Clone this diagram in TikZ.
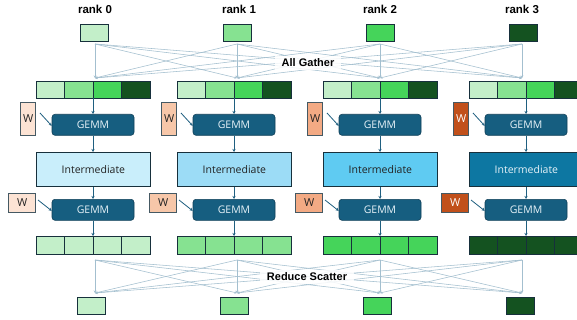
\documentclass[tikz,border=0pt]{standalone}
\usepackage{fontspec}
\setmainfont{Open Sans}
\newfontfamily\lblfont{Liberation Sans}
\usetikzlibrary{arrows.meta}
\definecolor{gA}{HTML}{C3EFC9}
\definecolor{gB}{HTML}{86E291}
\definecolor{gC}{HTML}{45D45A}
\definecolor{gD}{HTML}{145220}
\definecolor{gemmfill}{HTML}{165E80}
\definecolor{gemmdraw}{HTML}{0F3F58}
\definecolor{cellline}{HTML}{17303C}
\definecolor{fanline}{HTML}{A3BFCF}
\definecolor{arr}{HTML}{1F5F80}
\definecolor{iA}{HTML}{C9EEFB}
\definecolor{iB}{HTML}{9CDCF6}
\definecolor{iC}{HTML}{5FCBF2}
\definecolor{iD}{HTML}{0D77A2}
\definecolor{wA}{HTML}{FCE3D4}
\definecolor{wB}{HTML}{F7C7A9}
\definecolor{wC}{HTML}{F3AA84}
\definecolor{wD}{HTML}{C1501B}
\definecolor{dk}{HTML}{222222}
\definecolor{lt}{HTML}{E6F2F8}
\tikzset{
  cell/.style={draw=cellline, line width=0.8pt, minimum width=28.5pt, minimum height=17pt, inner sep=0pt, outer sep=0pt},
  smallbox/.style={draw=cellline, line width=0.8pt, minimum width=28pt, minimum height=17pt, inner sep=0pt, anchor=north west},
  gemm/.style={draw=gemmdraw, fill=gemmfill, line width=0.6pt, rounded corners=3pt, minimum width=82pt, minimum height=21pt, inner sep=0pt, text=lt, font=\fontsize{10.5}{12}\selectfont, anchor=north},
  inter/.style={draw=cellline, line width=0.8pt, minimum width=114pt, minimum height=34pt, inner sep=0pt, font=\fontsize{10.5}{12}\selectfont, anchor=north west},
  wbox/.style={draw=cellline!80, line width=0.6pt, inner sep=0pt, font=\fontsize{11}{12}\selectfont, anchor=north east},
  flow/.style={draw=arr, line width=0.8pt, -{Stealth[length=3pt,width=3pt]}},
  fan/.style={draw=fanline, line width=0.55pt, -{Stealth[length=2.5pt,width=2.5pt]}},
  lbl/.style={font=\lblfont\bfseries\fontsize{11.5}{13}\selectfont, text=black},
  commlbl/.style={lbl, font=\lblfont\bfseries\fontsize{11}{13}\selectfont, fill=white, fill opacity=0.85, text opacity=1, inner xsep=7pt, inner ysep=3pt}
}
\begin{document}
\begin{tikzpicture}[x=1pt,y=-1pt]
\fill[white] (0,0) rectangle (577,320);
\useasboundingbox (0,0) rectangle (577,320);
\foreach \i/\L/\tx/\bx/\fx/\lx/\gc/\wc/\ic/\wt/\it in
  {0/36/80/77/95/95/gA/wA/iA/dk/dk,
   1/177/223/220/237/239/gB/wB/iB/dk/dk,
   2/323/366/363/380/380/gC/wC/iC/dk/dk,
   3/469/509/506/522/522/gD/wD/iD/white/lt}{
  \node[lbl] (rank\i) at (\lx,9) {rank \i};
  \node[smallbox, fill=\gc] (src\i) at (\tx,24) {};
  \node[cell, fill=gA, anchor=north west] (ga\i-1) at (\L,81) {};
  \node[cell, fill=gB, anchor=north west] (ga\i-2) at ({\L+28.5},81) {};
  \node[cell, fill=gC, anchor=north west] (ga\i-3) at ({\L+57},81) {};
  \node[cell, fill=gD, anchor=north west] (ga\i-4) at ({\L+85.5},81) {};
  \node[gemm] (gemmA\i) at ({\L+57},114) {GEMM};
  \node[wbox, fill=\wc, text=\wt, minimum width=15pt, minimum height=33pt] (wA\i) at (\L,102) {W};
  \node[inter, fill=\ic, text=\it] (int\i) at (\L,152) {Intermediate};
  \node[gemm] (gemmB\i) at ({\L+57},199) {GEMM};
  \node[wbox, fill=\wc, text=\wt, minimum width=27pt, minimum height=19pt] (wB\i) at (\L,193) {W};
  \node[cell, fill=\gc, anchor=north west, minimum height=18pt] (out\i-1) at (\L,236) {};
  \node[cell, fill=\gc, anchor=north west, minimum height=18pt] (out\i-2) at ({\L+28.5},236) {};
  \node[cell, fill=\gc, anchor=north west, minimum height=18pt] (out\i-3) at ({\L+57},236) {};
  \node[cell, fill=\gc, anchor=north west, minimum height=18pt] (out\i-4) at ({\L+85.5},236) {};
  \node[smallbox, fill=\gc] (res\i) at (\bx,297) {};
  \coordinate (ts\i) at (\fx,44);
  \coordinate (td\i) at (\fx,78);
  \coordinate (bs\i) at (\fx,260);
  \coordinate (bd\i) at (\fx,293);
  \draw[flow] (ga\i-2.south east) -- (gemmA\i.north);
  \draw[flow] (gemmA\i.south) -- (gemmA\i.south |- int\i.north);
  \draw[flow] ([xshift=4pt,yshift=-11pt]wA\i.north east) -- ([yshift=-1pt]gemmA\i.west);
  \draw[flow] (int\i.south -| gemmB\i.north) -- (gemmB\i.north);
  \draw[flow] (gemmB\i.south) -- (out\i-2.north east);
  \draw[flow] ([xshift=2pt,yshift=-7pt]wB\i.north east) -- ([yshift=-1pt]gemmB\i.west);
}
\foreach \i in {0,...,3}{
  \foreach \j in {0,...,3}{
    \draw[fan] (ts\i) -- (td\j);
    \draw[fan] (bs\i) -- (bd\j);
  }
}
\node[commlbl] (ag) at (308,63) {All Gather};
\node[commlbl] (rs) at (307,277) {Reduce Scatter};
\end{tikzpicture}
\end{document}
